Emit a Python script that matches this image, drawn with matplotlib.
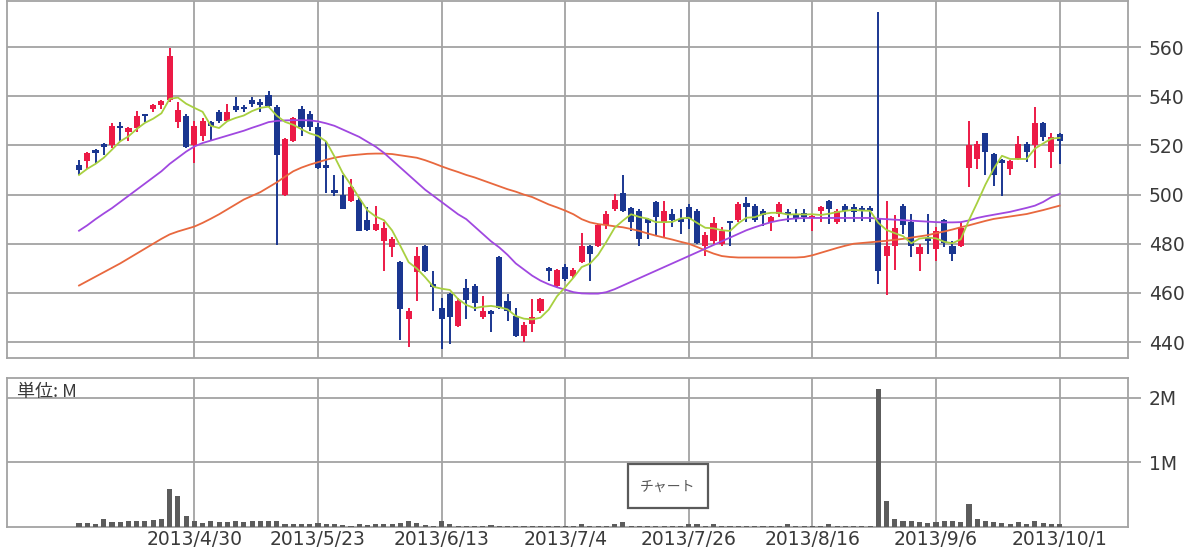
import matplotlib
matplotlib.use("Agg")
import matplotlib.pyplot as plt
import numpy as np
import pandas as pd
from matplotlib.patches import Rectangle

plt.rcParams['font.family'] = ['DejaVu Sans', 'Noto Sans CJK JP']

# ---------------- data ----------------
holidays = ['2013-04-29', '2013-05-03', '2013-05-06', '2013-07-15', '2013-09-16', '2013-09-23']
dates = [d for d in pd.bdate_range('2013-04-09', '2013-10-01') if d.strftime('%Y-%m-%d') not in holidays]

opens = [512, 513.5, 518, 520.5, 520, 528, 525.5, 527, 532.5, 535, 536.5, 538.5, 529.5, 532, 520,
         524, 529.5, 533.5, 530, 536, 535.5, 538.5, 537.5, 540.5, 535.5, 500, 522, 535, 533, 527.5,
         512, 502, 500, 497.5, 498, 489.5, 485.5, 481, 478.5, 472.5, 449.5, 468.5, 479, 463.5, 454,
         459.5, 446.5, 462, 463, 450, 452.5, 474.5, 456.5, 450.5, 442.5, 447.5, 452.5, 470, 463, 470.5,
         467, 472.5, 479, 479, 487.5, 494, 500.5, 494.5, 493.5, 490, 497, 488.5, 492, 490, 495,
         493.5, 479, 481, 480, 489, 489.5, 496.5, 495.5, 493.5, 489, 492, 493, 492, 492.5, 490.5,
         493.5, 497.5, 489, 495.5, 495, 494.5, 494.5, 490, 475, 479, 495.5, 489, 476, 482.5, 478,
         489.5, 479, 479, 511, 514.5, 525, 516.5, 514, 510.5, 514.5, 520.5, 520, 529, 517.5, 524.5]
highs = [514, 517.5, 518.5, 521, 529, 529.5, 527.5, 534, 533, 537, 538.7, 559.5, 537.5, 533, 530,
         531, 530, 534.5, 537, 539.7, 536.3, 539.7, 539, 542, 536.5, 523, 531.5, 536, 534, 529,
         522, 508, 508, 506.5, 498.5, 495, 495.5, 489, 482.6, 473, 454, 478.5, 479.5, 469, 458,
         460, 458, 465.5, 463.5, 458.8, 453, 475, 459.5, 454, 448, 457.5, 458, 470.5, 469.7, 471.7,
         470, 484.5, 479.5, 488, 493.5, 500.3, 508, 495, 494.2, 490.5, 497.6, 497.6, 494, 494, 496,
         494, 484.6, 490.8, 487, 489.4, 497, 498.9, 496.2, 494.2, 491.4, 497, 494.2, 494, 494, 492,
         495.5, 498, 494.2, 496.2, 496, 495.5, 495.5, 574.5, 497.5, 491.5, 496, 492, 480, 492, 486.7,
         490, 481, 488.7, 530, 522, 525, 517, 514.5, 514, 524, 521.4, 535.5, 529.5, 525, 525]
lows = [508, 510.5, 513, 516, 519, 522, 522, 525.5, 529.5, 533.5, 535, 537.5, 527, 519, 513,
        522, 522, 529, 529.5, 533.5, 533.5, 535.6, 533.5, 535.5, 479.5, 499.5, 521.5, 524, 526, 510.5,
        500.5, 499.5, 494, 497, 485, 485, 485, 469, 474.5, 441, 438, 456.5, 468.5, 452.5, 437,
        439, 446, 449.5, 452.7, 449.5, 444, 453.5, 448.5, 442, 440, 444, 452, 465, 462, 465,
        466, 472, 465, 478.5, 486, 493.5, 493, 485.3, 479, 482, 483, 482.6, 486.7, 484, 486,
        480, 475, 480, 479, 479.2, 489, 488.7, 489, 487.4, 485.3, 491, 488.7, 489, 489, 485.3,
        488.7, 488, 488, 488.7, 488.7, 489.4, 489, 463.5, 459, 469.5, 484, 474.5, 469, 475.8, 473,
        478.5, 473, 478.5, 503, 510.5, 507.8, 503.7, 499.6, 507.8, 514, 513.2, 511, 522, 511, 512.5]
closes = [510, 517, 517, 519.5, 528, 527, 527, 532, 532, 536.5, 538, 556.5, 534.5, 519.5, 528,
          530, 528, 530, 533.5, 534.5, 535, 537, 536.5, 536, 516, 522.5, 531, 527.5, 527.5, 511,
          511, 500.5, 494, 503, 485, 485.5, 488, 486.5, 482, 453.5, 452.5, 475, 469, 462.5, 449.5,
          450, 456.5, 457, 456, 452.5, 451.5, 454, 452.5, 442.5, 447, 450, 457.5, 469, 469.5, 465.5,
          469.5, 479, 476, 487.5, 492, 498, 493.5, 489, 482, 488.5, 491, 493.5, 489.5, 489, 490,
          480.5, 483.5, 488.5, 485, 488.5, 496, 495, 489.5, 491.5, 490.8, 496, 491.8, 490, 491, 491,
          494.8, 494, 493.5, 493.5, 493, 493.5, 493.5, 469, 479, 486.5, 487.5, 479, 478.5, 481, 485,
          480.5, 476, 486.5, 520, 520.5, 517.5, 508, 513, 513.5, 520.5, 517.5, 529, 523.5, 523.5, 522]

ma5 = [508, 510.5, 512.5, 515, 518.3, 521.7, 523.7, 526.7, 529.2, 530.9, 533.1, 539, 539.5, 537, 535.3,
       533.7, 528, 527.1, 529.9, 531.2, 532.2, 534, 535.3, 535.8, 532.1, 529.6, 528.4, 526.6, 524.9, 523.9,
       521.6, 515.5, 508.8, 503.9, 498.7, 493.6, 491.1, 489.6, 485.4, 479.1, 472.5, 469.9, 466.4, 462.5, 461.7,
       461.2, 457.5, 455.1, 453.8, 454.4, 454.7, 454.2, 453.3, 450.6, 449.5, 449.2, 449.9, 453.2, 458.6, 462.3,
       466.2, 470.5, 471.9, 475.5, 480.8, 486.5, 489.4, 492, 490.9, 490.2, 488.8, 488.8, 488.9, 490.3, 490.6,
       488.5, 486.5, 486.3, 485.5, 485.2, 488.3, 490.6, 490.8, 492.1, 492.6, 492.6, 491.9, 492, 491.9, 492,
       491.7, 492.2, 492.9, 493.4, 493.8, 493.5, 493.4, 488.5, 485.6, 484.3, 483.1, 480.2, 482.1, 482.5, 482.2,
       480.8, 480.2, 481.8, 489.6, 496.7, 504.1, 510.5, 515.8, 514.5, 514.5, 514.5, 518.7, 520.8, 522.8, 523.1]
ma25 = [485.3, 487.5, 490, 492.3, 494.5, 497, 499.5, 502, 504.5, 507, 509.5, 512.5, 515, 517.5, 519.6,
        521, 522, 523, 524, 525, 526, 527.2, 528.3, 529.5, 530, 530.2, 530.3, 530.3, 530.2, 529.8,
        529, 528, 526.5, 525, 523.5, 521.5, 519.5, 517, 514, 511, 508, 505, 502, 499.5, 497,
        494.5, 492, 490, 487, 484, 481, 478.5, 475.5, 472, 469.5, 467, 465, 463.5, 462.3, 461.3,
        460.3, 459.8, 459.7, 459.7, 460.3, 461.5, 463, 464.5, 466, 467.5, 469, 470.5, 472, 473.5, 475,
        476.5, 478, 479.5, 481, 482.5, 484, 485.5, 486.7, 487.8, 488.8, 489.5, 490, 490.3, 490.5, 490.5,
        490.5, 490.5, 490.5, 490.5, 490.5, 490.5, 490.5, 490.2, 490, 489.8, 489.6, 489.4, 489.2, 489, 488.8,
        488.7, 488.7, 488.8, 489.5, 490.5, 491.2, 491.8, 492.4, 493, 493.8, 494.6, 495.5, 497, 499, 500.3]
ma75 = [463, 464.8, 466.6, 468.4, 470.2, 472, 474, 476, 478, 480, 482, 483.8, 485, 486, 487,
        488.5, 490.2, 492, 494, 496, 498, 499.5, 501, 503, 505, 507.3, 509.5, 511, 512.2, 513.2,
        514.2, 515, 515.6, 516, 516.3, 516.6, 516.7, 516.7, 516.5, 516, 515.5, 515, 514, 512.8, 511.5,
        510.3, 509.2, 508, 507, 505.8, 504.6, 503.4, 502.2, 501.2, 500, 499, 497.5, 496, 494.8, 493.5,
        492, 490, 488.7, 488, 487.6, 487.1, 486.7, 486, 485.2, 484.2, 483.3, 482.5, 481.7, 480.8, 480,
        478.7, 477.3, 476, 475, 474.6, 474.4, 474.4, 474.4, 474.4, 474.4, 474.4, 474.4, 474.4, 474.6, 475.3,
        476.3, 477.3, 478.3, 479.2, 480, 480.3, 480.6, 480.9, 481.2, 481.6, 482, 482.5, 483, 483.5, 484.3,
        485, 485.8, 486.7, 487.5, 488.4, 489.3, 490.1, 490.6, 491.1, 491.6, 492.1, 492.9, 493.7, 494.6, 495.5]

volume_m = [0.06, 0.06, 0.04, 0.13, 0.08, 0.08, 0.09, 0.09, 0.09, 0.11, 0.13, 0.59, 0.48, 0.17, 0.09,
            0.06, 0.09, 0.08, 0.08, 0.09, 0.08, 0.09, 0.09, 0.09, 0.09, 0.05, 0.05, 0.05, 0.05, 0.06,
            0.05, 0.04, 0.025, 0.02, 0.04, 0.025, 0.05, 0.05, 0.05, 0.06, 0.09, 0.06, 0.03, 0.02, 0.09,
            0.04, 0.02, 0.015, 0.015, 0.015, 0.035, 0.015, 0.015, 0.015, 0.015, 0.015, 0.015, 0.015, 0.015, 0.015,
            0.015, 0.04, 0.02, 0.015, 0.015, 0.04, 0.07, 0.015, 0.015, 0.015, 0.015, 0.015, 0.015, 0.015, 0.05,
            0.05, 0.02, 0.05, 0.015, 0.015, 0.015, 0.015, 0.015, 0.015, 0.015, 0.015, 0.04, 0.015, 0.015, 0.015,
            0.015, 0.04, 0.015, 0.015, 0.015, 0.015, 0.015, 2.14, 0.41, 0.13, 0.10, 0.10, 0.08, 0.06, 0.08,
            0.09, 0.10, 0.08, 0.36, 0.13, 0.09, 0.07, 0.06, 0.05, 0.08, 0.04, 0.09, 0.06, 0.05, 0.05]

tick_dates = ['2013-04-30', '2013-05-23', '2013-06-13', '2013-07-04',
              '2013-07-26', '2013-08-16', '2013-09-06', '2013-10-01']
price_ticks = [440, 460, 480, 500, 520, 540, 560]
volume_ticks = [1, 2]
volume_tick_labels = ['1M', '2M']
unit_label = '単位: M'
button_label = 'チャート'

# ---------------- styles ----------------
RED = '#ec1a46'
BLUE = '#1a3690'
GRID = '#a3a3a3'
TXT = '#3a3a3a'

x = np.arange(len(dates))
date_str = [d.strftime('%Y-%m-%d') for d in dates]
tick_idx = [date_str.index(t) for t in tick_dates]
tick_lbl = [f"{pd.Timestamp(t).year}/{pd.Timestamp(t).month}/{pd.Timestamp(t).day}" for t in tick_dates]

W, H = 1200, 552
fig = plt.figure(figsize=(W / 100, H / 100), dpi=100)
fig.patch.set_facecolor('white')

L, R = 7, 1128
ax = fig.add_axes([L / W, 1 - 358 / H, (R - L) / W, (358 - 1) / H])
axv = fig.add_axes([L / W, 1 - 527 / H, (R - L) / W, (527 - 378) / H])

o = np.array(opens); c = np.array(closes); hi = np.array(highs); lo = np.array(lows)
up = c >= o
cols = np.where(up, RED, BLUE)
ax.vlines(x, lo, hi, colors=cols, linewidth=1.4, zorder=3)
body_b = np.minimum(o, c)
body_h = np.maximum(np.abs(c - o), 0.8)
ax.bar(x, body_h, bottom=body_b, width=0.74, color=cols, linewidth=0, zorder=4)

ax.plot(x, ma75, color='#e8683e', lw=1.3, zorder=5)
ax.plot(x, ma25, color='#a048e0', lw=1.3, zorder=5)
ax.plot(x, ma5, color='#a8d040', lw=1.3, zorder=6)

xlim = (-8.74, 127.3)
for a in (ax, axv):
    a.set_xlim(*xlim)
    a.set_xticks(tick_idx)
    a.set_axisbelow(True)
    a.grid(True, color=GRID, lw=1.3)
    for s in a.spines.values():
        s.set_color(GRID)
        s.set_linewidth(1.3)
    a.yaxis.tick_right()
    a.tick_params(axis='y', length=9, width=1.3, color=GRID, labelsize=13.5,
                  labelcolor=TXT, pad=6)
    a.tick_params(axis='x', length=0)

ax.set_ylim(433.5, 578.8)
ax.set_yticks(price_ticks)
ax.tick_params(axis='x', labelbottom=False)

axv.bar(x, volume_m, width=0.62, color='#5c5c5c', linewidth=0, zorder=3)
axv.set_ylim(0, 2.31)
axv.set_yticks(volume_ticks)
axv.set_yticklabels(volume_tick_labels)
axv.set_xticklabels(tick_lbl)
axv.tick_params(axis='x', labelsize=13.5, labelcolor=TXT, pad=2)

fig.text(17 / W, 1 - 392 / H, unit_label, va='center', ha='left', fontsize=13, color=TXT,
         family=['Noto Sans CJK JP', 'DejaVu Sans'])

fig.add_artist(Rectangle((628 / W, 1 - 508 / H), 80 / W, 44 / H, transform=fig.transFigure,
                         facecolor='white', edgecolor='#5a5a5a', lw=1.6, zorder=10))
fig.text(668 / W, 1 - 487 / H, button_label, ha='center', va='center', fontsize=10, color='#555555',
         family=['Noto Sans CJK JP', 'DejaVu Sans'], zorder=11)

fig.savefig('out.png', dpi=100, facecolor='white')
